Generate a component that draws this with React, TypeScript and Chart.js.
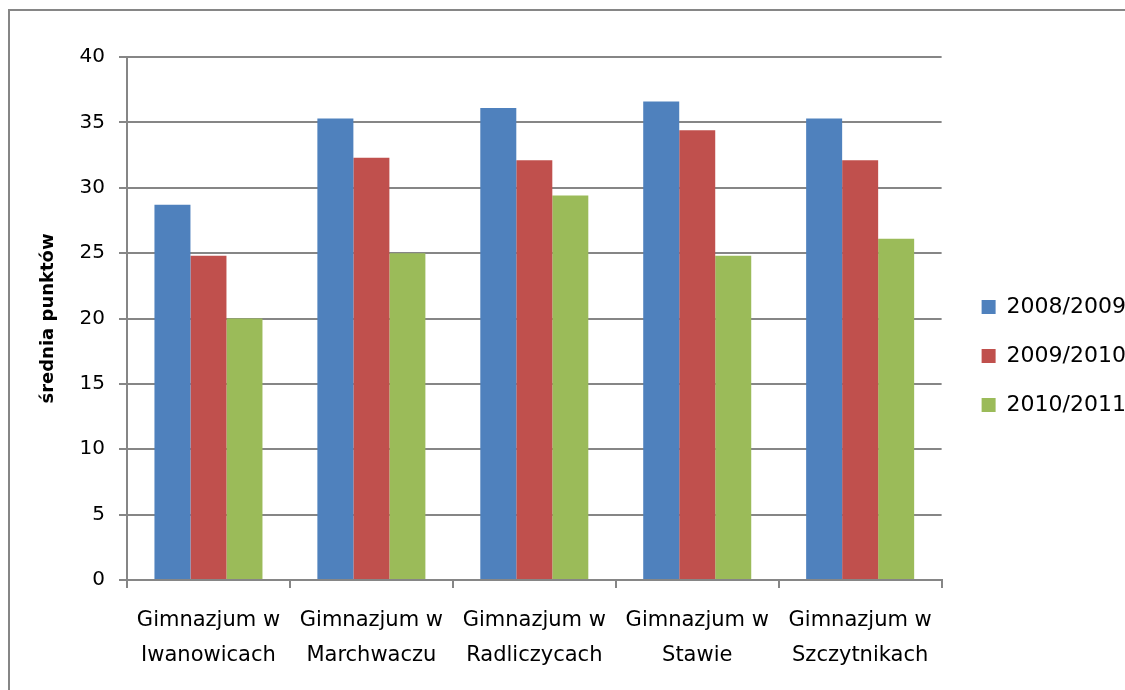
import React, { useEffect, useRef } from "react";
import { Chart, registerables, layouts } from "chart.js";

Chart.register(...registerables);

const categories: string[][] = [
  ["Gimnazjum w", "Iwanowicach"],
  ["Gimnazjum w", "Marchwaczu"],
  ["Gimnazjum w", "Radliczycach"],
  ["Gimnazjum w", "Stawie"],
  ["Gimnazjum w", "Szczytnikach"],
];

const seriesNames: string[] = ["2008/2009", "2009/2010", "2010/2011"];

const values2008: number[] = [28.7, 35.3, 36.1, 36.6, 35.3];
const values2009: number[] = [24.8, 32.3, 32.1, 34.4, 32.1];
const values2010: number[] = [20.0, 25.0, 29.4, 24.8, 26.1];

const seriesColors: string[] = ["#4F81BD", "#C0504D", "#9BBB59"];

const yTitle = "średnia punktów";

const GRID = "#868686";
const FONT = "'DejaVu Sans', sans-serif";

function makeSpacer(position: string, size: number) {
  const horizontal = position === "top" || position === "bottom";
  const box: any = {
    position,
    weight: -10,
    fullSize: false,
    options: { stackWeight: 1 },
    left: 0,
    top: 0,
    right: 0,
    bottom: 0,
    width: 0,
    height: 0,
    isHorizontal: () => horizontal,
    update(maxWidth: number, maxHeight: number) {
      if (horizontal) {
        box.width = maxWidth;
        box.height = size;
      } else {
        box.width = size;
        box.height = maxHeight;
      }
    },
    draw() {},
  };
  return box;
}

const spacers = {
  id: "spacers",
  beforeInit(chart: any) {
    layouts.addBox(chart, makeSpacer("right", 13));
    layouts.addBox(chart, makeSpacer("top", 36));
  },
};

export default function App() {
  const ref = useRef<HTMLCanvasElement>(null);

  useEffect(() => {
    if (!ref.current) return;
    const data = [values2008, values2009, values2010];
    const chart = new Chart(ref.current, {
      type: "bar",
      data: {
        labels: categories,
        datasets: seriesNames.map((name, i) => ({
          label: name,
          data: data[i],
          backgroundColor: seriesColors[i],
          borderWidth: 0,
          categoryPercentage: 0.663,
          barPercentage: 1,
        })),
      },
      plugins: [spacers],
      options: {
        responsive: false,
        animation: false,
        devicePixelRatio: 1,
        layout: { padding: { top: 10, left: 0, right: 0, bottom: 0 } },
        plugins: {
          tooltip: { enabled: false },
          legend: {
            position: "right",
            align: "center",
            labels: {
              boxWidth: 14,
              boxHeight: 14,
              padding: 27,
              color: "#000",
              font: { family: FONT, size: 22 },
            },
          },
        },
        scales: {
          x: {
            offset: true,
            grid: {
              drawOnChartArea: false,
              drawTicks: true,
              tickLength: 8,
              color: GRID,
              lineWidth: 2,
            },
            border: { display: true, color: GRID, width: 2 },
            ticks: {
              color: "#000",
              padding: 15.5,
              maxRotation: 0,
              autoSkip: false,
              font: { family: FONT, size: 21, lineHeight: 1.65 },
            },
            afterFit: (s: any) => {
              s.height = 111;
            },
          },
          y: {
            min: 0,
            max: 40,
            ticks: {
              stepSize: 5,
              color: "#000",
              padding: 14,
              font: { family: FONT, size: 20 },
            },
            grid: {
              color: GRID,
              lineWidth: 2,
              tickLength: 8,
              drawTicks: true,
            },
            border: { display: true, color: GRID, width: 2 },
            title: {
              display: true,
              text: yTitle,
              color: "#000",
              padding: { top: 28, bottom: 0 },
              font: { family: FONT, size: 18, weight: "bold", lineHeight: 1.2 },
            },
            afterFit: (s: any) => {
              s.width = 117;
            },
          },
        },
      },
    } as any);
    return () => chart.destroy();
  }, []);

  return (
    <div
      style={{
        position: "fixed",
        left: 0,
        top: 0,
        width: 1125,
        height: 690,
        overflow: "hidden",
        background: "#fff",
      }}
    >
      <div
        style={{
          position: "absolute",
          left: 8,
          top: 9,
          width: 1140,
          height: 700,
          border: `2px solid ${GRID}`,
          boxSizing: "content-box",
        }}
      >
        <canvas
          ref={ref}
          width={1126}
          height={680}
          style={{ position: "absolute", left: 0, top: 0, width: 1126, height: 680 }}
        />
      </div>
    </div>
  );
}
